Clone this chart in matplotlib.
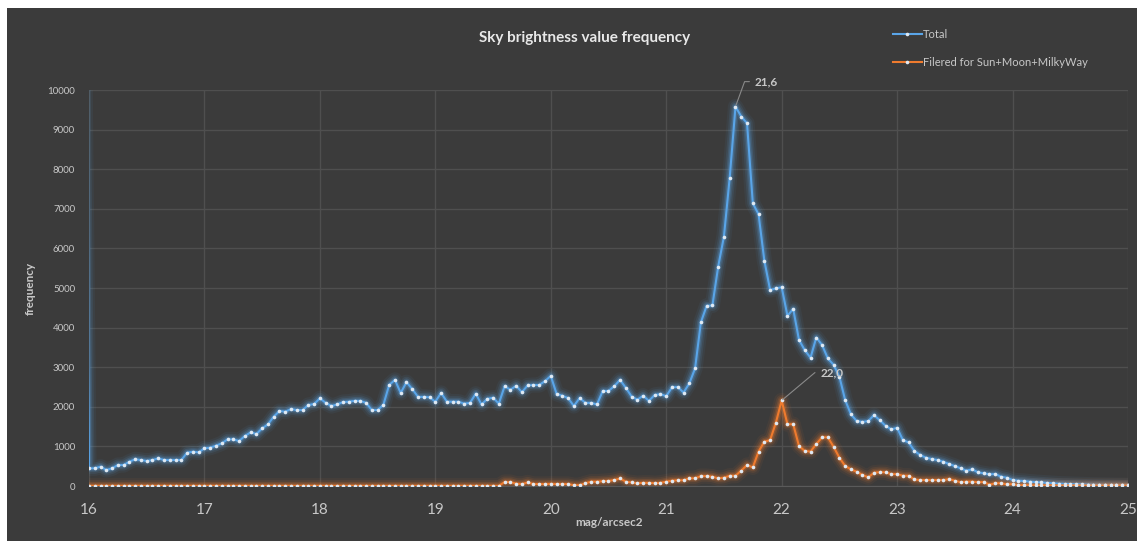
import numpy as np
import matplotlib
matplotlib.use('Agg')
import matplotlib.pyplot as plt
from matplotlib.patches import Rectangle

plt.rcParams['font.family'] = ['Lato', 'DejaVu Sans']

# magnitude bins, 0.05 mag wide, 16.00 .. 25.00
mag = np.round(np.arange(16.0, 25.0001, 0.05), 2)

# the bin just below 16 is far off the scale (drawn as the vertical line at 16)
below_16_mag = 15.95
below_16_total = 15000

total = [
    447, 447, 488, 404, 447, 530, 530, 614, 674, 657,
    632, 657, 699, 657, 657, 657, 657, 842, 867, 850,
    951, 968, 1020, 1077, 1178, 1178, 1136, 1263, 1355, 1313,
    1456, 1557, 1751, 1894, 1877, 1944, 1919, 1919, 2045, 2071,
    2214, 2100, 2020, 2060, 2120, 2130, 2150, 2150, 2100, 1920,
    1920, 2050, 2550, 2680, 2350, 2620, 2450, 2250, 2250, 2240,
    2130, 2350, 2130, 2130, 2130, 2080, 2100, 2330, 2060, 2200,
    2230, 2080, 2520, 2430, 2530, 2370, 2540, 2550, 2550, 2650,
    2780, 2330, 2280, 2220, 2020, 2220, 2100, 2100, 2060, 2400,
    2400, 2520, 2680, 2480, 2260, 2180, 2280, 2150, 2300, 2320,
    2270, 2490, 2500, 2360, 2590, 2970, 4130, 4550, 4560, 5540,
    6300, 7790, 9580, 9330, 9160, 7140, 6860, 5690, 4950, 4990,
    5020, 4300, 4470, 3690, 3430, 3240, 3750, 3560, 3220, 3060,
    2760, 2170, 1810, 1640, 1620, 1640, 1790, 1660, 1520, 1430,
    1470, 1160, 1100, 885, 783, 715, 682, 657, 614, 556,
    505, 446, 387, 421, 345, 320, 295, 303, 236, 210,
    152, 135, 126, 110, 100, 90, 80, 70, 60, 55,
    50, 45, 40, 35, 30, 28, 25, 22, 20, 18,
    15,
]

filtered = [
    5, 5, 5, 5, 5, 5, 5, 5, 5, 5,
    5, 5, 5, 5, 5, 5, 5, 5, 5, 5,
    5, 5, 5, 5, 5, 5, 5, 5, 5, 5,
    5, 5, 5, 5, 5, 5, 5, 5, 5, 5,
    5, 5, 5, 5, 5, 5, 5, 5, 5, 5,
    5, 5, 5, 5, 5, 5, 5, 5, 5, 5,
    5, 5, 5, 5, 5, 5, 5, 5, 5, 5,
    5, 5, 100, 100, 60, 50, 90, 50, 50, 50,
    55, 50, 50, 50, 20, 20, 70, 110, 110, 120,
    130, 150, 190, 110, 90, 70, 80, 80, 70, 80,
    110, 135, 145, 145, 195, 195, 250, 250, 235, 195,
    210, 260, 260, 390, 530, 470, 870, 1120, 1160, 1600,
    2160, 1560, 1560, 1010, 885, 870, 1060, 1230, 1230, 990,
    715, 505, 420, 360, 280, 220, 335, 350, 345, 300,
    300, 260, 260, 165, 150, 150, 150, 150, 150, 175,
    135, 95, 110, 110, 95, 100, 35, 70, 70, 42,
    50, 18, 25, 18, 15, 15, 15, 15, 15, 15,
    15, 15, 15, 15, 15, 15, 15, 15, 15, 15,
    15,
]

x_ticks = [16, 17, 18, 19, 20, 21, 22, 23, 24, 25]
y_ticks = [0, 1000, 2000, 3000, 4000, 5000, 6000, 7000, 8000, 9000, 10000]

BG = '#3b3b3b'
BLUE = '#5aa5e8'
ORANGE = '#ef7b2e'
TXT = '#c8c8c8'

fig = plt.figure(figsize=(11.42, 5.46), dpi=100, facecolor='white')
fig.patches.append(Rectangle((7 / 1142, 5 / 546), 1130 / 1142, 533 / 546,
                             transform=fig.transFigure, facecolor=BG,
                             edgecolor='none', zorder=-10))
ax = fig.add_axes([89 / 1142, 60 / 546, 1039 / 1142, 396 / 546])
ax.set_facecolor(BG)

total_x = np.concatenate([[below_16_mag], mag])
total_y = np.concatenate([[below_16_total], total])


def glow_line(x, y, color, label):
    # soft halo under the line, like Excel's glow effect
    for lw, a in [(11, 0.06), (8, 0.10), (5.5, 0.16), (3.5, 0.25)]:
        ax.plot(x, y, color=color, lw=lw, alpha=a, solid_capstyle='round',
                solid_joinstyle='round', zorder=2)
    ax.plot(x, y, color=color, lw=1.5, zorder=3, label=label,
            marker='o', markersize=2.6, markerfacecolor='#dfe9f3',
            markeredgecolor='none')


glow_line(total_x, total_y, BLUE, 'Total')
glow_line(mag, filtered, ORANGE, 'Filered for Sun+Moon+MilkyWay')

ax.set_xlim(16, 25)
ax.set_ylim(0, 10000)
ax.set_xticks(x_ticks)
ax.set_yticks(y_ticks)
ax.grid(True, color='#4f4f4f', lw=1)
ax.set_axisbelow(True)
for side in ['top', 'right', 'left']:
    ax.spines[side].set_visible(False)
ax.spines['bottom'].set_color('#5a5a5a')
ax.tick_params(axis='both', length=0)
ax.tick_params(axis='x', labelsize=11, colors=TXT, pad=12)
ax.tick_params(axis='y', labelsize=7, colors=TXT, pad=10)

ax.set_xlabel('mag/arcsec2', color=TXT, fontsize=8.5, fontweight='bold', labelpad=0)
ax.set_ylabel('frequency', color=TXT, fontsize=8.5, fontweight='bold', labelpad=8)

fig.text(0.512, 0.93, 'Sky brightness value frequency', ha='center', va='center',
         color='#e8e8e8', fontsize=11, fontweight='bold')

# data labels on the two peaks
i_tot = int(np.argmax(total))
i_fil = int(np.argmax(filtered))
ax.annotate('21,6', xy=(mag[i_tot], total[i_tot]), xytext=(14, 18),
            textcoords='offset points', color=TXT, fontsize=8.5, fontweight='bold',
            va='center',
            arrowprops=dict(arrowstyle='-', color='#8a8a8a', lw=0.8,
                            connectionstyle='angle,angleA=0,angleB=70,rad=0',
                            shrinkA=2, shrinkB=1))
ax.annotate('22,0', xy=(mag[i_fil], filtered[i_fil]), xytext=(28, 20),
            textcoords='offset points', color=TXT, fontsize=8.5, fontweight='bold',
            va='center',
            arrowprops=dict(arrowstyle='-', color='#8a8a8a', lw=0.8,
                            connectionstyle='angle,angleA=0,angleB=40,rad=0',
                            shrinkA=2, shrinkB=1))

leg = ax.legend(loc='upper left', bbox_to_anchor=(883 / 1142, 0.965),
                bbox_transform=fig.transFigure, frameon=False, fontsize=8,
                handlelength=2.6, handletextpad=0.1, labelspacing=1.5)
for t in leg.get_texts():
    t.set_color(TXT)

fig.savefig('out.png', dpi=100, facecolor='white')
